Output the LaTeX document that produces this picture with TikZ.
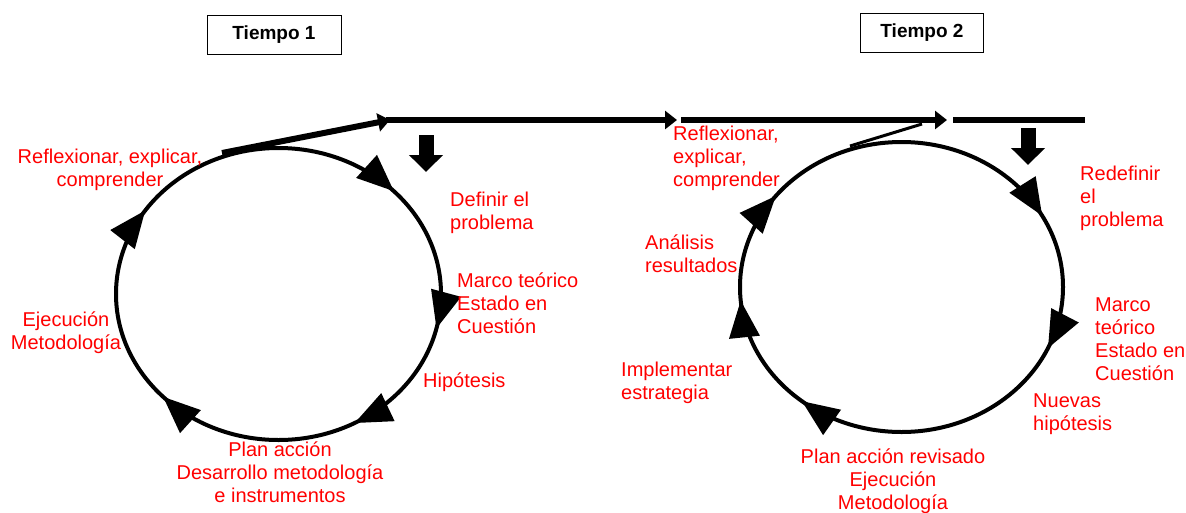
\documentclass[tikz,border=0pt]{standalone}
\usepackage{fontspec}
\setmainfont{Liberation Sans}
\usetikzlibrary{arrows.meta,decorations.markings}

\tikzset{
  lbl/.style={text=red, font=\fontsize{20}{23}\selectfont, inner sep=0pt},
  tiempo/.style={draw, line width=1pt, font=\bfseries\fontsize{19}{22}\selectfont, minimum height=39pt},
  ciclo/.style={line width=4pt, postaction=decorate},
  barra/.style={line width=6pt},
  punta/.style={-{Triangle[length=12pt,width=18pt]}},
  bajada/.style={line width=15pt, -{Triangle[length=17pt,width=33pt]}},
}
\newcommand{\tri}{\arrow{Triangle[length=37pt,width=30pt]}}

\begin{document}
\begin{tikzpicture}[x=1pt,y=-1pt]
\useasboundingbox (0,0) rectangle (1186,512);

\node[tiempo, minimum width=134pt] (t1) at (274,35) {Tiempo 1};
\node[tiempo, minimum width=123pt] (t2) at (922,33) {Tiempo 2};

\coordinate (c1) at (278.5,294);
\coordinate (c2) at (901.5,287);

\draw[ciclo, decoration={markings,
  mark=at position 0.036 with {\tri},
  mark=at position 0.169 with {\tri},
  mark=at position 0.38 with {\tri},
  mark=at position 0.593 with {\tri},
  mark=at position 0.88 with {\tri}}]
  (c1) ellipse [x radius=162.5, y radius=146];

\draw[ciclo, decoration={markings,
  mark=at position 0.066 with {\tri},
  mark=at position 0.36 with {\tri},
  mark=at position 0.486 with {\tri},
  mark=at position 0.604 with {\tri},
  mark=at position 0.922 with {\tri}}]
  (c2) ellipse [x radius=161.5, y radius=145];

\coordinate (a0) at (222,153);
\coordinate (a1) at (390,120);
\coordinate (a2) at (677,120);
\coordinate (a3) at (681,120);
\coordinate (a4) at (947,120);
\coordinate (a5) at (953,120);
\coordinate (a6) at (1085,120);
\coordinate (b0) at (850,146);
\coordinate (b1) at (922,124);

\draw[barra, punta] (a0) -- (a1);
\draw[barra, punta] (386,120) -- (a2);
\draw[barra, punta] (a3) -- (a4);
\draw[barra] (a5) -- (a6);
\draw[line width=3pt] (b0) -- (b1);

\coordinate (d1) at (426,135);
\coordinate (e1) at (426,172);
\coordinate (d2) at (1028,128);
\coordinate (e2) at (1028,165);
\draw[bajada] (d1) -- (e1);
\draw[bajada] (d2) -- (e2);

% Tiempo 1
\node[lbl, align=center] (refl1) at (110,170) {Reflexionar, explicar,\\comprender};
\node[lbl, align=left, anchor=west] (def1) at (450,213) {Definir el\\problema};
\node[lbl, align=left, anchor=west] (marco1) at (457,303) {Marco teórico\\Estado en\\Cuestión};
\node[lbl, anchor=west] (hip1) at (423,382) {Hipótesis};
\node[lbl, align=center] (plan1) at (280,472) {Plan acción\\Desarrollo metodología\\e instrumentos};
\node[lbl, align=center] (ejec1) at (66,333) {Ejecución\\Metodología};

% Tiempo 2
\node[lbl, align=left, anchor=west] (refl2) at (673,158) {Reflexionar,\\explicar,\\comprender};
\node[lbl, align=left, anchor=west] (redef2) at (1080,198) {Redefinir\\el\\problema};
\node[lbl, align=left, anchor=west] (anal2) at (645,254) {Análisis\\resultados};
\node[lbl, align=left, anchor=west] (marco2) at (1095,339) {Marco\\teórico\\Estado en\\Cuestión};
\node[lbl, align=left, anchor=west] (nuev2) at (1033,414) {Nuevas\\hipótesis};
\node[lbl, align=left, anchor=west] (impl2) at (621,383) {Implementar\\estrategia};
\node[lbl, align=center] (plan2) at (893,481) {Plan acción revisado\\Ejecución\\Metodología};
\end{tikzpicture}
\end{document}
